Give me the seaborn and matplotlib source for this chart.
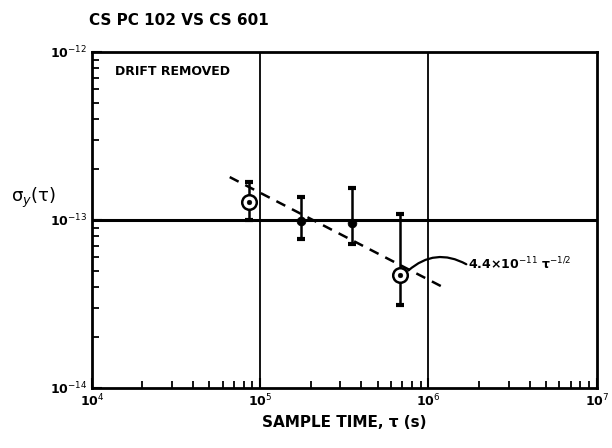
import matplotlib
matplotlib.use("Agg")
import matplotlib.pyplot as plt
import pandas as pd
import seaborn as sns

# values
tau = [8.6e4, 1.75e5, 3.5e5, 6.8e5]
sigma = [1.28e-13, 0.99e-13, 0.96e-13, 4.7e-14]
err_hi = [1.68e-13, 1.37e-13, 1.55e-13, 1.09e-13]
err_lo = [1.00e-13, 0.77e-13, 0.72e-13, 3.1e-14]
open_pt = [True, False, False, True]

fit_tau = [6.6e4, 1.21e6]
fit_sigma = [1.8e-13, 4.0e-14]

x_ticks = [1e4, 1e5, 1e6, 1e7]
x_labels = ["10$^{4}$", "10$^{5}$", "10$^{6}$", "10$^{7}$"]
y_ticks = [1e-14, 1e-13, 1e-12]
y_labels = ["10$^{-14}$", "10$^{-13}$", "10$^{-12}$"]

df = pd.DataFrame({"tau": tau, "sigma": sigma, "open": open_pt})
fit_df = pd.DataFrame({"tau": fit_tau, "sigma": fit_sigma})

sns.set_style("ticks")
plt.rcParams["font.family"] = ["DejaVu Sans"]
plt.rcParams.update({"text.color": "black", "axes.labelcolor": "black",
                     "xtick.color": "black", "ytick.color": "black"})

fig = plt.figure(figsize=(6.12, 4.48), dpi=100)
ax = fig.add_axes([0.150, 0.134, 0.825, 0.750])
ax.set_xscale("log")
ax.set_yscale("log")
ax.set_xlim(1e4, 1e7)
ax.set_ylim(1e-14, 1e-12)

# grid lines at the decades
for xv in [1e5, 1e6]:
    ax.axvline(xv, color="black", lw=1.3, zorder=1)
ax.axhline(1e-13, color="black", lw=2.2, zorder=1)

sns.lineplot(data=fit_df, x="tau", y="sigma", ax=ax, color="black",
             lw=1.8, linestyle=(0, (4, 3)), zorder=2)

yerr = [[s - lo for s, lo in zip(sigma, err_lo)], [hi - s for s, hi in zip(sigma, err_hi)]]
ax.errorbar(tau, sigma, yerr=yerr, fmt="none", ecolor="black", elinewidth=1.8,
            capsize=3, capthick=3, zorder=3)

sns.scatterplot(data=df[df["open"]], x="tau", y="sigma", ax=ax, s=110,
                facecolor="white", edgecolor="black", linewidth=1.8, zorder=4)
sns.scatterplot(data=df[~df["open"]], x="tau", y="sigma", ax=ax, s=40, color="black",
                edgecolor="black", zorder=5)
sns.scatterplot(data=df[df["open"]], x="tau", y="sigma", ax=ax, s=12, color="black",
                edgecolor="black", zorder=5)

# curved leader from the last point to the fit label
ax.annotate("", xy=(7.6e5, 5.0e-14), xytext=(1.68e6, 5.45e-14),
            arrowprops=dict(arrowstyle="-", color="black", lw=1.6,
                            connectionstyle="arc3,rad=0.35", shrinkA=0, shrinkB=0))
ax.text(1.72e6, 5.5e-14, "4.4×10$^{-11}$ τ$^{-1/2}$", fontsize=9, fontweight="bold",
        va="center", ha="left")

ax.text(0.045, 0.96, "DRIFT REMOVED", transform=ax.transAxes, fontsize=9,
        fontweight="bold", va="top")

ax.set_xticks(x_ticks)
ax.set_xticklabels(x_labels, fontsize=9, fontweight="bold")
ax.set_yticks(y_ticks)
ax.set_yticklabels(y_labels, fontsize=9, fontweight="bold")
ax.tick_params(which="major", direction="in", length=7, width=1.5)
ax.tick_params(which="minor", direction="in", length=5, width=1.3)
ax.tick_params(axis="y", which="minor", labelleft=False)
ax.tick_params(axis="x", which="minor", labelbottom=False)

for sp in ax.spines.values():
    sp.set_linewidth(2)
    sp.set_color("black")

ax.set_xlabel("SAMPLE TIME, τ (s)", fontsize=11, fontweight="bold", labelpad=4)
ax.set_ylabel("σ$_y$(τ)", fontsize=13, rotation=0, va="center", ha="left")
ax.yaxis.set_label_coords(-0.16, 0.565)

fig.text(0.145, 0.945, "CS PC 102 VS CS 601", fontsize=11, fontweight="bold")

fig.savefig("out.png", dpi=100)
